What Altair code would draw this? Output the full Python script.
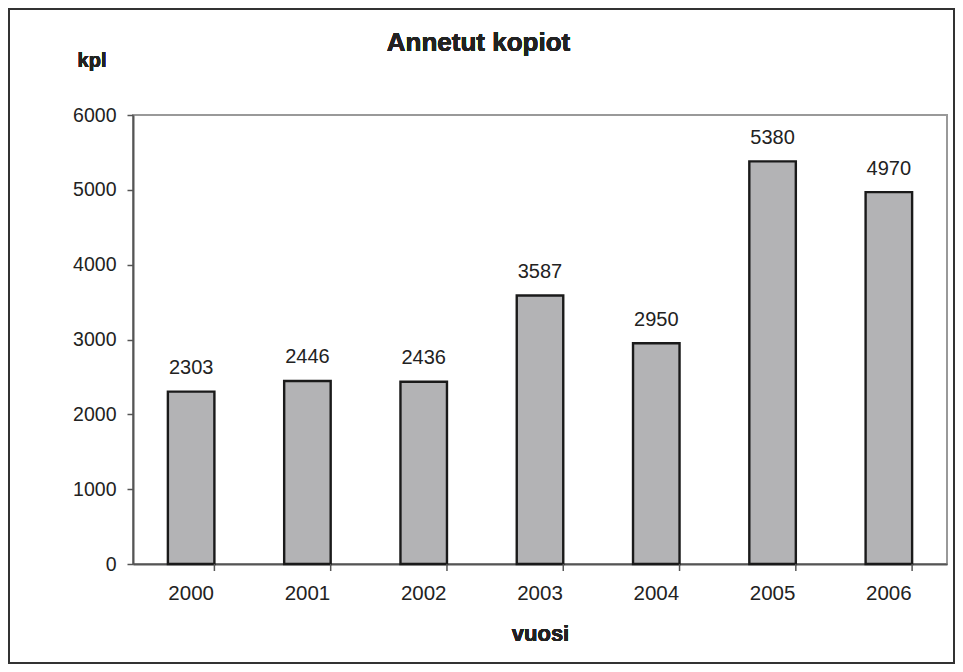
import altair as alt
import pandas as pd

years = ["2000", "2001", "2002", "2003", "2004", "2005", "2006"]
values = [2303, 2446, 2436, 3587, 2950, 5380, 4970]

df = pd.DataFrame({"vuosi": years, "kpl": values})

W, H = 814, 449
FONT = "Liberation Sans"
TXT = "#222222"

xenc = alt.X("vuosi:O", sort=years,
             scale=alt.Scale(paddingInner=0.6, paddingOuter=0.3),
             axis=alt.Axis(title=None, labelAngle=0, ticks=False, labelFontSize=20.5,
                           labelFont=FONT, labelColor=TXT, labelPadding=19,
                           domainColor="#555555", domainWidth=2))
yenc = alt.Y("kpl:Q", scale=alt.Scale(domain=[0, 6000]),
             axis=alt.Axis(title=None, values=[0, 1000, 2000, 3000, 4000, 5000, 6000],
                           format="d", grid=False, tickSize=6, tickColor="#555555",
                           tickWidth=1.5, labelFontSize=19.5, labelFont=FONT,
                           labelColor=TXT, labelPadding=11,
                           domainColor="#555555", domainWidth=2))

bars = alt.Chart(df).mark_bar(fill="#b3b3b5", stroke="#1a1a1a", strokeWidth=2.4).encode(
    x=xenc, y=yenc)

labels = alt.Chart(df).mark_text(baseline="alphabetic", dy=-17.5, fontSize=20, font=FONT,
                                  color=TXT).encode(
    x=alt.X("vuosi:O", sort=years), y="kpl:Q", text="kpl:Q")

ticks = alt.Chart(df).mark_rule(color="#555555", strokeWidth=1.5).encode(
    x=alt.X("vuosi:O", sort=years, bandPosition=1),
    y=alt.value(H), y2=alt.value(H + 7))

title = alt.Chart(df).mark_text(fontSize=26, fontWeight="bold", font=FONT, color=TXT,
                                baseline="alphabetic").encode(
    x=alt.value(345.5), y=alt.value(-64.3), text=alt.value("Annetut kopiot"))
ylab = alt.Chart(df).mark_text(fontSize=20, fontWeight="bold", font=FONT, color=TXT,
                               baseline="alphabetic").encode(
    x=alt.value(-41), y=alt.value(-48.3), text=alt.value("kpl"))
xlab = alt.Chart(df).mark_text(fontSize=22, fontWeight="bold", font=FONT, color=TXT,
                               baseline="alphabetic").encode(
    x=alt.value(407.5), y=alt.value(525.7), text=alt.value("vuosi"))

border = alt.Chart(df).mark_rect(fill=None, stroke="#333333", strokeWidth=1.5).encode(
    x=alt.value(-124), x2=alt.value(821), y=alt.value(-106), y2=alt.value(548))

chart = alt.layer(border, bars, labels, ticks, title, ylab, xlab).properties(
    width=W, height=H,
    autosize=alt.AutoSizeParams(type="none"),
    padding={"left": 125, "top": 107, "right": 8, "bottom": 100},
    background="white",
).configure_view(stroke="#999999", strokeWidth=2)

chart.save("out.html", embed_options={"renderer": "svg", "actions": False})
